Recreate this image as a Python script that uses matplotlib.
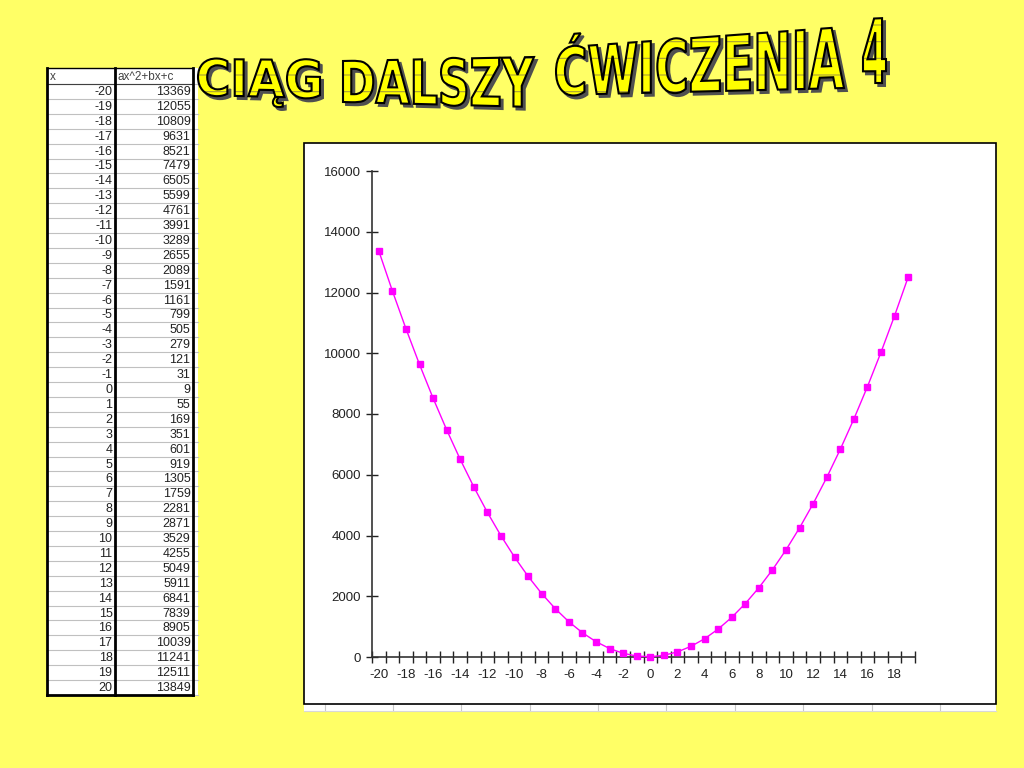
import matplotlib
matplotlib.use("Agg")
import matplotlib.pyplot as plt
import numpy as np
from matplotlib.patches import Rectangle, PathPatch
from matplotlib.path import Path
from matplotlib.textpath import TextPath
from matplotlib.font_manager import FontProperties
from matplotlib.ticker import FixedLocator, NullFormatter, FixedFormatter

# ---------------- data ----------------
x_vals = [-20, -19, -18, -17, -16, -15, -14, -13, -12, -11, -10, -9, -8, -7, -6, -5, -4, -3, -2, -1,
          0, 1, 2, 3, 4, 5, 6, 7, 8, 9, 10, 11, 12, 13, 14, 15, 16, 17, 18, 19, 20]
y_vals = [13369, 12055, 10809, 9631, 8521, 7479, 6505, 5599, 4761, 3991, 3289, 2655, 2089, 1591,
          1161, 799, 505, 279, 121, 31, 9, 55, 169, 351, 601, 919, 1305, 1759, 2281, 2871, 3529,
          4255, 5049, 5911, 6841, 7839, 8905, 10039, 11241, 12511, 13849]
# the chart shows x = -20 ... 19
chart_x = x_vals[:40]
chart_y = y_vals[:40]
col_headers = ["x", "ax^2+bx+c"]
title_words = ["CIĄG", "DALSZY", "ĆWICZENIA", "4"]
y_ticks = [0, 2000, 4000, 6000, 8000, 10000, 12000, 14000, 16000]

BG = "#FFFF66"
plt.rcParams['hatch.linewidth'] = 0.8

fig = plt.figure(figsize=(10.24, 7.68), dpi=100, facecolor=BG)
bg = fig.add_axes([0, 0, 1, 1])
bg.set_xlim(0, 1024)
bg.set_ylim(768, 0)
bg.axis('off')
bg.set_zorder(0)

# ---------------- table ----------------
tx0, tmid, tx1, tx2 = 47, 115, 193, 198
ty0, thead = 68, 84
ty1 = 695
nrows = len(x_vals)
rh = (ty1 - thead) / nrows
bg.add_patch(Rectangle((tx0, ty0), tx2 - tx0, ty1 - ty0, facecolor='white', edgecolor='none', zorder=1))
for i in range(nrows + 1):
    yy = thead + i * rh
    bg.plot([tx0, tx2], [yy, yy], color='#c0c0c0', lw=0.8, zorder=2)
bg.plot([tx0, tx1], [thead, thead], color='#404040', lw=0.8, zorder=3)
bg.plot([tx0, tx1], [ty0, ty0], color='black', lw=1.0, zorder=3)
bg.plot([tx0, tx1], [ty1, ty1], color='black', lw=2.0, zorder=3)
for xx in (tx0, tmid, tx1):
    bg.plot([xx, xx], [ty0, ty1], color='black', lw=2.0, zorder=3, solid_capstyle='projecting')
tfont = dict(family=['Liberation Sans', 'DejaVu Sans'], size=9, color='#222222')
bg.text(tx0 + 3, (ty0 + thead) / 2 + 0.5, col_headers[0], ha='left', va='center', zorder=4,
        family=['Liberation Sans', 'DejaVu Sans'], size=8.5, color='#444444')
bg.text(tmid + 3, (ty0 + thead) / 2 + 0.5, col_headers[1], ha='left', va='center', zorder=4,
        family=['Liberation Sans', 'DejaVu Sans'], size=8.5, color='#444444')
for i, (xv, yv) in enumerate(zip(x_vals, y_vals)):
    yc = thead + (i + 0.5) * rh + 0.5
    bg.text(tmid - 2.5, yc, str(xv), ha='right', va='center', zorder=4, **tfont)
    bg.text(tx1 - 2.5, yc, str(yv), ha='right', va='center', zorder=4, **tfont)

# ---------------- chart frame ----------------
bg.add_patch(Rectangle((304, 704), 692, 7, facecolor='white', edgecolor='none', zorder=1))
for xx in [325, 393, 461, 530, 598, 666, 735, 803, 872, 940]:
    bg.plot([xx, xx], [704, 711], color='#c8c8c8', lw=0.8, zorder=1.5)
bg.plot([304, 996], [711, 711], color='#d8d8d8', lw=0.8, zorder=1.5)
bg.add_patch(Rectangle((304, 143), 692, 561, facecolor='white', edgecolor='black', lw=1.2, zorder=2))

# ---------------- WordArt title ----------------
fp = FontProperties(family='DejaVu Sans', weight='bold')
capH = TextPath((0, 0), "H", size=100, prop=fp).get_extents().y1
# per word: (x_left, x_right, top_left, top_right, bottom_left, bottom_right) in pixels
word_geom = [
    (198, 320, 59, 60, 95, 98),
    (343, 534, 61, 57, 102, 107),
    (556, 844, 48, 27, 95, 88),
    (863, 886, 19, 18, 83, 83),
]
for word, (xl, xr, tl, tr, bl, br) in zip(title_words, word_geom):
    tp = TextPath((0, 0), word, size=100, prop=fp)
    ext = tp.get_extents()
    verts = tp.vertices.copy()
    t = (verts[:, 0] - ext.x0) / (ext.x1 - ext.x0)
    s = verts[:, 1] / capH
    px = xl + t * (xr - xl)
    top = tl + t * (tr - tl)
    bot = bl + t * (br - bl)
    py = bot + s * (top - bot)
    newp = Path(np.column_stack([px, py]), tp.codes)
    shadow = Path(np.column_stack([px + 3, py + 3]), tp.codes)
    bg.add_patch(PathPatch(shadow, facecolor='#505050', edgecolor='#505050', lw=1.4, zorder=5))
    bg.add_patch(PathPatch(newp, facecolor='#FFFF00', edgecolor='none', lw=0, zorder=6))
    bg.add_patch(PathPatch(newp, facecolor='none', edgecolor='#A89E38', lw=0, hatch='-', zorder=6.5))
    bg.add_patch(PathPatch(newp, facecolor='none', edgecolor='black', lw=1.5, zorder=7))

# ---------------- chart axes ----------------
L, R, T, B = 372, 915, 171, 657
ax = fig.add_axes([L / 1024, (768 - B) / 768, (R - L) / 1024, (B - T) / 768])
ax.set_zorder(2)
ax.patch.set_alpha(0)
idx = np.arange(len(chart_x))
ax.plot(idx, chart_y, color='#FF00FF', lw=1.0, marker='s', markersize=4.5,
        markerfacecolor='#FF00FF', markeredgecolor='#FF00FF', clip_on=False, zorder=3)
ax.set_xlim(-0.5, len(chart_x) - 0.5)
ax.set_ylim(0, 16000)
for sp in ('top', 'right'):
    ax.spines[sp].set_visible(False)
for sp in ('left', 'bottom'):
    ax.spines[sp].set_color('#333333')
    ax.spines[sp].set_linewidth(1.2)

ax.set_yticks(y_ticks)
ax.set_yticklabels([str(v) for v in y_ticks])
ax.tick_params(axis='y', direction='inout', length=8, width=1, color='#222222',
               pad=4, labelsize=9.5, labelcolor='#222222')

# x: ticks between categories, labels centered every second category
ax.xaxis.set_major_locator(FixedLocator(np.arange(-0.5, len(chart_x), 1.0)))
ax.xaxis.set_major_formatter(NullFormatter())
lab_pos = idx[::2]
ax.xaxis.set_minor_locator(FixedLocator(lab_pos))
ax.xaxis.set_minor_formatter(FixedFormatter([str(chart_x[i]) for i in lab_pos]))
ax.tick_params(axis='x', which='major', direction='inout', length=8, width=1, color='#222222')
ax.tick_params(axis='x', which='minor', length=0, pad=9, labelsize=9.5, labelcolor='#222222')
for lab in ax.get_xticklabels(minor=True) + ax.get_yticklabels():
    lab.set_family(['Liberation Sans', 'DejaVu Sans'])

fig.savefig("out.png", dpi=100, facecolor=BG)
